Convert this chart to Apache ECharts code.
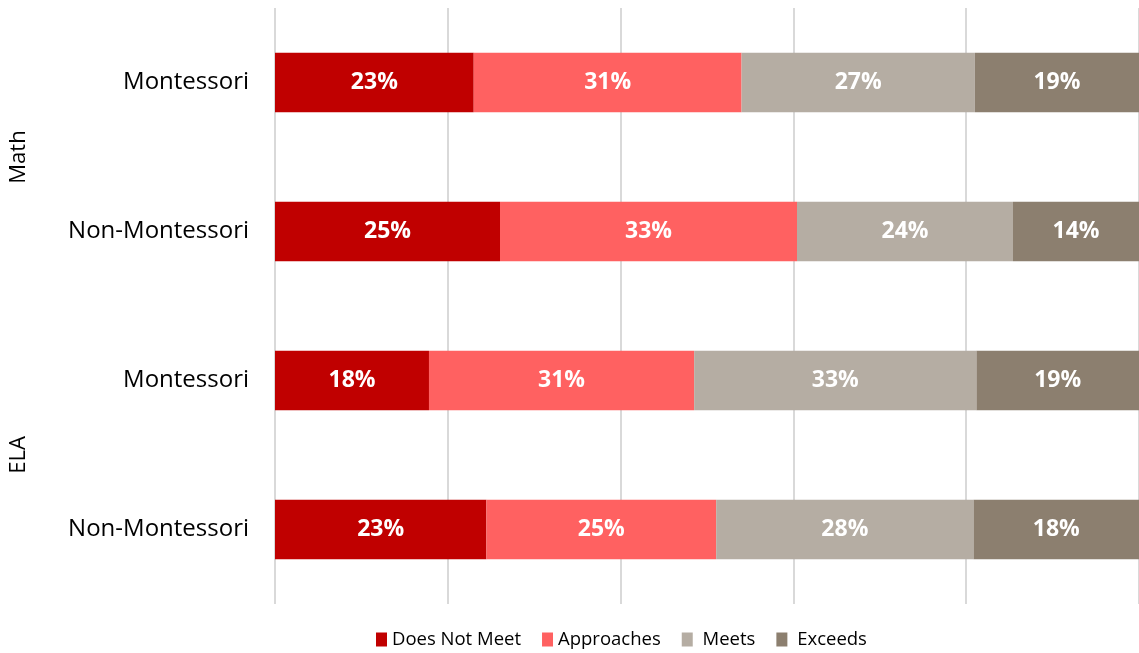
<!DOCTYPE html>
<html>
<head>
<meta charset="utf-8">
<script src="https://cdn.jsdelivr.net/npm/echarts@6/dist/echarts.min.js"></script>
<style>
html,body{margin:0;padding:0;background:#fff;}
#chart{width:1139px;height:653px;}
</style>
</head>
<body>
<div id="chart"></div>
<script>
const subjects = ['Math', 'ELA'];
const groups = ['Montessori', 'Non-Montessori', 'Montessori', 'Non-Montessori'];
const seriesNames = ['Does Not Meet', 'Approaches', 'Meets', 'Exceeds'];
const doesNotMeet = [23, 25, 18, 23];
const approaches = [31, 33, 31, 25];
const meets = [27, 24, 33, 28];
const exceeds = [19, 14, 19, 18];
const colors = ['#C00000', '#FF6161', '#B5ADA3', '#8C7F6F'];
const xTicks = [0, 20, 40, 60, 80, 100];

const raw = [doesNotMeet, approaches, meets, exceeds];
const totals = groups.map((g, i) => raw.reduce((s, arr) => s + arr[i], 0));

const FONT = '"Open Sans"';

const series = raw.map((arr, k) => ({
  name: seriesNames[k],
  type: 'bar',
  stack: 'total',
  barWidth: '40%',
  itemStyle: { color: colors[k] },
  label: {
    show: true,
    position: 'inside',
    color: '#fff',
    fontWeight: 'bold',
    fontSize: 23,
    fontFamily: FONT,
    formatter: p => arr[p.dataIndex] + '%'
  },
  emphasis: { disabled: true },
  data: arr.map((v, i) => v / totals[i] * 100)
}));

const chart = echarts.init(document.getElementById('chart'), null, { renderer: 'canvas' });
chart.setOption({
  animation: false,
  textStyle: { fontFamily: FONT },
  grid: { left: 275, right: 0, top: 8, bottom: 49, containLabel: false },
  legend: {
    top: 630,
    left: 376,
    padding: 0,
    itemWidth: 11,
    itemHeight: 14,
    itemGap: 21,
    icon: 'rect',
    textStyle: { fontSize: 18.5, color: '#000', fontFamily: FONT },
    formatter: name => (name === 'Meets' || name === 'Exceeds') ? ' ' + name : name,
    data: seriesNames
  },
  xAxis: {
    type: 'value',
    min: xTicks[0],
    max: xTicks[xTicks.length - 1],
    interval: 20,
    axisLabel: { show: false },
    axisLine: { show: false },
    axisTick: { show: false },
    splitLine: { show: true, lineStyle: { color: '#D9D9D9', width: 2 } }
  },
  yAxis: [
    {
      type: 'category',
      inverse: true,
      data: groups,
      axisLine: { show: false },
      axisTick: { show: false },
      axisLabel: { fontSize: 24, color: '#000', margin: 26, fontFamily: FONT }
    },
    {
      type: 'category',
      inverse: true,
      position: 'left',
      offset: 245,
      data: subjects,
      axisLine: { show: false },
      axisTick: { show: false },
      axisLabel: { fontSize: 22, color: '#000', rotate: 90, margin: 0, fontFamily: FONT }
    }
  ],
  series: series
});
</script>
</body>
</html>
